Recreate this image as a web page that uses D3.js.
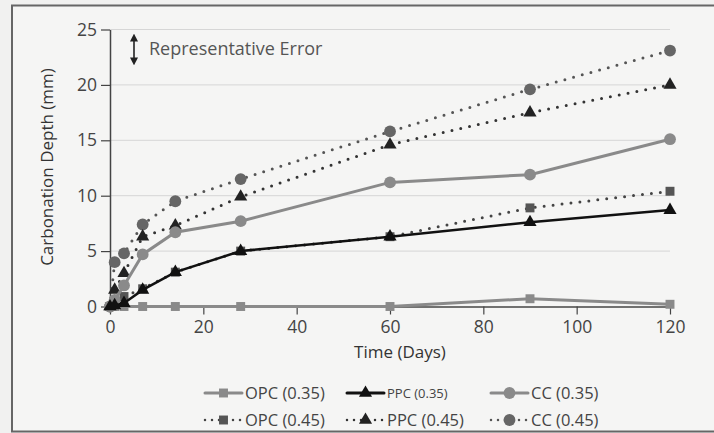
<!DOCTYPE html>
<html>
<head>
<meta charset="utf-8">
<script src="https://cdn.jsdelivr.net/npm/d3@7"></script>
<style>
  body { margin: 0; background: #f1f1f0; }
  svg { display: block; font-family: "Open Sans", sans-serif; }
</style>
</head>
<body>
<svg width="714" height="433"></svg>
<script>
// data
let days = [0, 1, 3, 7, 14, 28, 60, 90, 120];
let opc35 = [0, 0, 0, 0, 0, 0, 0, 0.7, 0.2];
let ppc35 = [0, 0.1, 0.3, 1.5, 3.1, 5.0, 6.3, 7.6, 8.7];
let cc35 = [0, 0.6, 1.9, 4.7, 6.7, 7.7, 11.2, 11.9, 15.1];
let opc45 = [0, 0.4, 0.9, 1.6, 3.1, 5.0, 6.3, 8.9, 10.4];
let ppc45 = [0, 1.5, 3.0, 6.3, 7.3, 9.9, 14.6, 17.5, 20.0];
let cc45 = [0, 4.0, 4.8, 7.4, 9.5, 11.5, 15.8, 19.6, 23.1];
let xTicks = [0, 20, 40, 60, 80, 100, 120];
let yTicks = [0, 5, 10, 15, 20, 25];

let series = [
  { name: "OPC (0.35)", values: opc35, shape: "square", color: "#8a8a8a", mark: "#8a8a8a", dotted: false },
  { name: "PPC (0.35)", values: ppc35, shape: "triangle", color: "#111", mark: "#111", dotted: false },
  { name: "CC (0.35)", values: cc35, shape: "circle", color: "#8a8a8a", mark: "#8a8a8a", dotted: false },
  { name: "OPC (0.45)", values: opc45, shape: "square", color: "#444", mark: "#555", dotted: true },
  { name: "PPC (0.45)", values: ppc45, shape: "triangle", color: "#333", mark: "#222", dotted: true },
  { name: "CC (0.45)", values: cc45, shape: "circle", color: "#555", mark: "#666", dotted: true }
];

let svg = d3.select("svg");

// frame
svg.append("rect")
    .attr("x", 12).attr("y", 5.5)
    .attr("width", 710).attr("height", 426)
    .attr("fill", "#f5f5f4")
    .attr("stroke", "#666")
    .attr("stroke-width", 2);

let x = d3.scaleLinear().domain([0, 120]).range([110, 670]);
let y = d3.scaleLinear().domain([0, 25]).range([306.5, 29.5]);

// gridlines
svg.append("g").selectAll("line")
    .data(yTicks.filter(d => d > 0))
    .enter().append("line")
    .attr("x1", x(0)).attr("x2", x(120))
    .attr("y1", d => y(d)).attr("y2", d => y(d))
    .style("stroke", "#d6d6d6")
    .style("stroke-width", 1);

// axes
let xAxis = svg.append("g")
    .attr("transform", "translate(0," + y(0) + ")")
    .call(d3.axisBottom(x).tickValues(xTicks).tickSize(8).tickSizeOuter(0));
let yAxis = svg.append("g")
    .attr("transform", "translate(" + x(0) + ",0)")
    .call(d3.axisLeft(y).tickValues(yTicks).tickSize(9).tickSizeOuter(0));

[xAxis, yAxis].forEach(function (g) {
  g.select(".domain").style("stroke", "#444").style("stroke-width", 1.5);
  g.selectAll(".tick line").style("stroke", "#444").style("stroke-width", 1.2);
  g.selectAll("text")
      .style("font-family", "'Open Sans', sans-serif")
      .style("font-size", "17.5px")
      .style("fill", "#444");
});
xAxis.selectAll("text").attr("dy", "0.9em");
yAxis.selectAll("text").attr("x", -13);

// axis titles
svg.append("text")
    .attr("x", 400).attr("y", 358)
    .attr("text-anchor", "middle")
    .style("font-size", "17px").style("fill", "#333")
    .text("Time (Days)");

svg.append("text")
    .attr("transform", "translate(53,167) rotate(-90)")
    .attr("text-anchor", "middle")
    .style("font-size", "17px").style("fill", "#333")
    .text("Carbonation Depth (mm)");

// representative error arrow
svg.append("defs").append("marker")
    .attr("id", "head")
    .attr("viewBox", "0 0 10 10")
    .attr("refX", 2).attr("refY", 5)
    .attr("markerWidth", 5).attr("markerHeight", 5)
    .attr("orient", "auto-start-reverse")
    .append("path").attr("d", "M0,0 L10,5 L0,10 Z").attr("fill", "#222");

svg.append("line")
    .attr("x1", 134).attr("x2", 134)
    .attr("y1", 40).attr("y2", 59)
    .attr("stroke", "#222").attr("stroke-width", 1.6)
    .attr("marker-start", "url(#head)")
    .attr("marker-end", "url(#head)");

svg.append("text")
    .attr("x", 149).attr("y", 55)
    .style("font-size", "18px").style("fill", "#555")
    .text("Representative Error");

// marker symbols
function symbolFor(shape, size) {
  let type = shape === "square" ? d3.symbolSquare : shape === "triangle" ? d3.symbolTriangle : d3.symbolCircle;
  return d3.symbol().type(type).size(size)();
}
let sizes = { square: 80, triangle: 75, circle: 110 };

let line = d3.line()
    .x((d, i) => x(days[i]))
    .y(d => y(d));

// draw series (back to front)
let order = [5, 4, 3, 2, 0, 1];
order.forEach(function (k) {
  let s = series[k];
  svg.append("path")
      .datum(s.values)
      .attr("d", line)
      .attr("fill", "none")
      .attr("stroke", s.color)
      .attr("stroke-width", s.dotted ? 3 : (s.shape === "triangle" ? 2.5 : 3))
      .attr("stroke-linecap", "round")
      .attr("stroke-dasharray", s.dotted ? "0 9" : null);

  svg.append("g").selectAll("path")
      .data(s.values)
      .enter().append("path")
      .attr("transform", (d, i) => "translate(" + x(days[i]) + "," + y(d) + ")")
      .attr("d", symbolFor(s.shape, sizes[s.shape]))
      .attr("fill", s.mark);
});

// legend
let legendCols = [205, 347, 491];
let legendRows = [393, 420];
series.forEach(function (s, i) {
  let lx = legendCols[i % 3];
  let ly = legendRows[Math.floor(i / 3)];
  let g = svg.append("g").attr("transform", "translate(" + lx + "," + ly + ")");
  g.append("line")
      .attr("x1", 0).attr("x2", 37)
      .attr("y1", 0).attr("y2", 0)
      .attr("stroke", s.color)
      .attr("stroke-width", s.dotted ? 2.5 : 3)
      .attr("stroke-linecap", "round")
      .attr("stroke-dasharray", s.dotted ? "0 7" : null);
  g.append("path")
      .attr("transform", "translate(18.5,0)")
      .attr("d", symbolFor(s.shape, sizes[s.shape]))
      .attr("fill", s.mark);
  g.append("text")
      .attr("x", 40).attr("y", 0)
      .attr("dy", "0.36em")
      .style("font-size", s.name === "PPC (0.35)" ? "13px" : "16.5px")
      .style("fill", "#444")
      .text(s.name);
});
</script>
</body>
</html>
